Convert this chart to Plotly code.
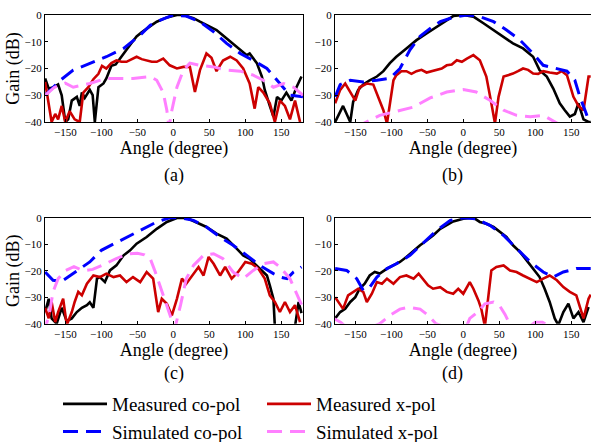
import plotly.graph_objects as go

# ---------------- data (angle in degree, gain in dB) ----------------
# Panel (a)
a_mco_x = [-178,-173,-166,-160,-155,-150,-146,-141,-134,-130,-127,-123,-116,-112,-109,-104,-97,-93,-86,-80,-76,-70,-65,-58,-51,-44,-37,-30,-23,-16,-9,-2,5,10,14,20,28,37,46,53,60,67,74,81,88,95,102,106,110,116,123,127,134,139,144,150,157,164,171,178]
a_mco_y = [-23.7,-27.5,-27,-26,-30,-40,-39,-32,-30.6,-34,-29,-31,-28,-30,-40,-27,-25.6,-23.7,-19,-18.5,-17,-15,-13,-10.5,-8,-6.5,-5,-3.8,-2.5,-1.6,-0.9,-0.5,0,0,0,-0.6,-1.2,-2.5,-3.8,-4.6,-5.6,-7.2,-8.8,-10.5,-12,-13.5,-15,-14.4,-16,-18,-23,-28,-34,-38,-30.6,-32,-29,-32,-27,-23]
a_mxp_x = [-178,-173,-169,-164,-160,-155,-150,-144,-137,-130,-125,-118,-111,-104,-99,-93,-86,-79,-72,-65,-58,-51,-44,-37,-30,-23,-14,-5,5,14,23,30,37,46,53,60,69,79,88,97,106,113,118,125,134,141,148,155,162,169,176]
a_mxp_y = [-25,-33,-40,-37,-39,-34,-40,-36,-39,-40,-29,-27,-24,-22,-19,-20,-18,-17,-17.5,-17.5,-16.5,-15.6,-16.5,-17,-17.5,-17.5,-16.3,-18.8,-20,-19.4,-19.4,-28.8,-20.6,-14.4,-16,-21,-17,-15.6,-17,-20,-25.6,-35,-27,-29,-33,-40,-32,-34,-39,-32,-40]
a_sco_x = [-178,-157,-139,-116,-93,-69,-46,-32,-18,0,18,37,56,74,93,111,130,148,162,180]
a_sco_y = [-30,-24.4,-20.6,-18,-15.6,-12.5,-7.5,-3.8,-1.9,0,-0.4,-2.5,-6.3,-10.6,-14.4,-17,-20,-25.6,-30,-30.6]
a_sxp_x = [-178,-165,-150,-139,-116,-93,-79,-56,-32,-23,-14,-9,-6,-2,5,14,23,37,56,74,93,111,125,139,153,167,180]
a_sxp_y = [-30,-27,-25.5,-27,-25.6,-23.7,-23.7,-23.7,-23,-24.4,-29,-35.6,-42,-35.6,-27,-20.6,-18,-18.8,-19.4,-20.6,-21,-22.5,-24.4,-27,-25.6,-27,-30]

# Panel (b)
b_mco_x = [-178,-173,-167,-162,-157,-153,-146,-139,-130,-120,-111,-102,-93,-79,-65,-51,-37,-23,-14,0,14,28,42,56,69,83,97,106,116,125,134,141,148,155,160,167,174,177]
b_mco_y = [-40,-37,-34,-37,-40,-32.5,-28,-26,-24.4,-23,-21,-18,-15.6,-12.5,-9.4,-6.9,-4.4,-1.9,-0.4,0,-0.6,-3.1,-5.6,-8.1,-10.6,-12.5,-15.6,-20.6,-23,-27.5,-33,-35.6,-38,-37,-33,-39,-40,-40]
b_mxp_x = [-178,-171,-164,-157,-150,-144,-134,-125,-118,-111,-106,-102,-97,-93,-86,-79,-72,-65,-58,-51,-44,-37,-30,-23,-16,-9,-2,5,14,23,32,39,44,49,56,62,69,76,83,90,97,104,111,120,130,137,144,153,160,167,174,177]
b_mxp_y = [-33,-28,-25.6,-29,-32,-27,-25.6,-26,-30.6,-35.6,-40.5,-34,-24.4,-22.5,-21,-21,-22,-21,-20.5,-21.5,-21,-20.6,-20,-18.8,-18.5,-16.9,-17.5,-16.3,-15,-16.9,-23,-33,-40.5,-30.6,-23,-22.5,-21.9,-21,-20,-20.5,-21.9,-22,-21,-21.5,-21.9,-21,-22.5,-30.6,-34,-35.6,-23,-23]
b_sco_x = [-178,-171,-157,-139,-120,-102,-88,-74,-60,-46,-32,-14,5,23,42,60,79,97,111,130,144,155,162,171,176]
b_sco_y = [-30.6,-26,-24.4,-25,-24.4,-23.7,-20,-13,-8,-5,-2.5,-0.9,0,-0.6,-2.5,-5.6,-9.4,-14.4,-18.8,-20,-21,-24.4,-30.6,-37,-41]
b_sxp_x = [-180,-150,-139,-116,-93,-69,-46,-23,0,18,37,56,74,93,111,125,134,150,177]
b_sxp_y = [-44,-43,-40.6,-37.5,-36,-34.4,-31,-28.8,-27.9,-28.8,-31.9,-35.6,-37.5,-38,-37.5,-39.4,-41,-44,-44]

# Panel (c)
c_mco_x = [-178,-173,-169,-162,-155,-148,-141,-134,-127,-120,-116,-111,-106,-102,-95,-88,-79,-69,-60,-51,-37,-23,-9,5,18,32,46,60,74,88,97,106,120,130,134,139,141,148,155,162,169,174,178]
c_mco_y = [-35.6,-30.6,-38,-40,-34,-39,-38,-35.6,-34,-33,-31.9,-34,-23,-22.4,-24.3,-19.9,-18,-14.2,-12.3,-9.8,-7.3,-4.2,-1.6,-0.1,0,-1.6,-3.5,-6,-7.9,-11.7,-14.2,-15.5,-19.2,-21.8,-25.5,-30.6,-41,-41,-41,-41,-41,-31.8,-36]
c_mxp_x = [-178,-173,-169,-164,-160,-153,-148,-141,-137,-132,-127,-120,-111,-102,-93,-83,-74,-65,-56,-46,-37,-28,-21,-16,-9,-2,5,12,18,28,35,42,49,56,65,72,81,90,100,109,118,127,134,141,148,155,162,169,176]
c_mxp_y = [-34,-38,-31.8,-39.4,-35.6,-30.6,-40.5,-35.6,-31.8,-28,-29.3,-24.9,-21.8,-22.4,-21.1,-22.4,-21.8,-24.3,-22.4,-24.3,-20.5,-23,-35.6,-30.6,-32.5,-36.9,-30.6,-23,-24.9,-21.1,-18.6,-21.8,-14.8,-17.4,-21.8,-18.6,-23,-20.5,-16.7,-17.4,-19.2,-23,-29.3,-31.8,-35.6,-31.8,-35.6,-33,-39.4]
c_sco_x = [-178,-167,-155,-139,-125,-116,-100,-86,-69,-42,-23,-5,9,28,46,65,83,102,120,139,150,158,167,178]
c_sco_y = [-20.5,-23.6,-24,-21,-18.6,-16.7,-12.3,-10.4,-7.9,-4.2,-1.6,0,0,-1,-3.5,-7.3,-10.4,-14.2,-18,-21.1,-22.5,-23,-20.5,-18.6]
c_sxp_x = [-180,-172,-167,-160,-150,-138,-125,-112,-95,-80,-62,-50,-40,-32,-25,-16,-5,2,10,18,28,42,56,69,83,97,111,125,139,148,162,174,180]
c_sxp_y = [-44,-36,-28,-23,-20,-18.5,-20,-19.5,-17.5,-15.5,-13.6,-13.4,-14,-15.5,-20.5,-28,-37,-42,-33,-23,-18,-14.2,-13.6,-15.5,-20.5,-23,-19.9,-17.4,-16.7,-18.6,-23,-30.6,-34]

# Panel (d)
d_mco_x = [-178,-171,-164,-157,-150,-144,-137,-130,-123,-116,-106,-97,-88,-79,-69,-60,-51,-42,-32,-23,-14,0,14,23,32,42,51,60,69,79,88,97,106,113,120,127,132,139,146,153,160,167,174]
d_mco_y = [-38,-35.6,-34.4,-31.8,-30,-26.8,-24.9,-21.8,-20.5,-21.1,-19.2,-18,-16.7,-14.8,-12.3,-10.4,-8.6,-6.7,-4.2,-2.9,-1.4,-0.4,0,-1.6,-2.3,-3.5,-5.4,-7.3,-10.4,-13,-16.1,-19.2,-22.4,-26.8,-31.8,-38,-40.5,-35.6,-32.4,-38,-35.6,-39.4,-33.7]
d_mxp_x = [-178,-173,-167,-160,-153,-146,-139,-134,-127,-120,-113,-106,-97,-88,-79,-69,-62,-56,-49,-42,-32,-23,-14,-7,0,9,14,21,25,30,35,39,46,56,65,74,83,93,102,111,120,130,139,148,157,167,174,177]
d_mxp_y = [-30,-31.8,-34.4,-29.3,-28,-26.8,-28,-31.8,-28.7,-24.3,-24.9,-23,-24.9,-22.4,-21.8,-23,-21.1,-23,-25.5,-26.8,-26.2,-28,-28.7,-26.8,-28.7,-24.3,-26.8,-31.2,-34.4,-41,-28,-19.9,-18.6,-18,-19.9,-20.5,-21.8,-23,-24.3,-23,-21.8,-23.6,-26.2,-28,-29.3,-38,-30.6,-29]
d_sco_x = [-178,-162,-148,-139,-130,-120,-106,-93,-74,-56,-37,-18,0,18,37,56,74,93,111,125,139,157,177]
d_sco_y = [-19.2,-19.9,-23,-27.4,-26.2,-22.4,-19.2,-17.4,-14.2,-9.8,-4.8,-1,0,-0.4,-2.9,-6.7,-11.7,-16.7,-20.5,-22.4,-20.5,-19.2,-19.2]
d_sxp_x = [-180,-170,-160,-140,-125,-116,-100,-88,-75,-60,-48,-38,-28,-15,0,9,20,30,42,50,58,65,80,100,110,120,135,177]
d_sxp_y = [-38,-39.5,-42,-44,-41,-40,-36.5,-34.5,-33.8,-34.5,-37,-40,-41,-44,-44,-38,-35.6,-32.5,-31.8,-33,-36.5,-40.5,-43,-39.5,-39.5,-41,-44,-44]

series_names = ["Measured co-pol", "Measured x-pol", "Simulated co-pol", "Simulated x-pol"]
panel_labels = ["(a)", "(b)", "(c)", "(d)"]
x_ticks = [-150, -100, -50, 0, 50, 100, 150]
y_ticks = [0, -10, -20, -30, -40]

panels = [
    [(a_mco_x, a_mco_y), (a_mxp_x, a_mxp_y), (a_sco_x, a_sco_y), (a_sxp_x, a_sxp_y)],
    [(b_mco_x, b_mco_y), (b_mxp_x, b_mxp_y), (b_sco_x, b_sco_y), (b_sxp_x, b_sxp_y)],
    [(c_mco_x, c_mco_y), (c_mxp_x, c_mxp_y), (c_sco_x, c_sco_y), (c_sxp_x, c_sxp_y)],
    [(d_mco_x, d_mco_y), (d_mxp_x, d_mxp_y), (d_sco_x, d_sco_y), (d_sxp_x, d_sxp_y)],
]

# ---------------- styles ----------------
W, H = 591, 442
FONT = "Liberation Serif, Times New Roman, serif"
styles = [
    dict(color="#000000", width=2.6, dash="solid"),
    dict(color="#CC0000", width=2.6, dash="solid"),
    dict(color="#0000FF", width=3.0, dash="15px,8px"),
    dict(color="#FF80FF", width=3.0, dash="15px,8px"),
]
legend_of = ["legend", "legend2", "legend", "legend2"]

# pixel geometry of the four plot areas: (left, right, top, bottom)
boxes = [(45, 303, 15, 122), (335, 591, 15, 122), (45, 303, 217.7, 323.7), (335, 591, 217.7, 323.7)]
xranges = [[-178.2, 180.1], [-178.2, 177.4], [-178.2, 180.1], [-178.2, 177.4]]

fig = go.Figure()
for p, series in enumerate(panels):
    xa = "x" if p == 0 else f"x{p+1}"
    ya = "y" if p == 0 else f"y{p+1}"
    for s, (xs, ys) in enumerate(series):
        fig.add_trace(go.Scatter(
            x=xs, y=ys, mode="lines", name=series_names[s],
            line=styles[s], xaxis=xa, yaxis=ya,
            showlegend=(p == 0), legend=legend_of[s],
        ))

axis_font = dict(family=FONT, size=11, color="black")
title_font = dict(family=FONT, size=18, color="black")
for p, (l, r, t, b) in enumerate(boxes):
    sx = "" if p == 0 else str(p + 1)
    fig.update_layout({
        f"xaxis{sx}": dict(
            domain=[l / W, r / W], range=xranges[p], anchor=f"y{sx}",
            tickvals=x_ticks, ticks="inside", ticklen=3, tickcolor="black",
            showline=True, linecolor="black", linewidth=1, mirror=True,
            showgrid=False, zeroline=False, tickfont=axis_font,
            title=dict(text="Angle (degree)", font=title_font, standoff=4),
            automargin=False,
        ),
        f"yaxis{sx}": dict(
            domain=[1 - b / H, 1 - t / H], range=[-40, 0], anchor=f"x{sx}",
            tickvals=y_ticks, ticks="inside", ticklen=3, tickcolor="black",
            showline=True, linecolor="black", linewidth=1, mirror=True,
            showgrid=False, zeroline=False, tickfont=axis_font,
            title=dict(text="Gain (dB)" if p in (0, 2) else "", font=title_font, standoff=0),
            automargin=False,
        ),
    })

label_pos = [(174, 176), (452, 176), (174, 373), (452, 373)]
for lab, (px, py) in zip(panel_labels, label_pos):
    fig.add_annotation(text=lab, x=px / W, y=1 - py / H, xref="paper", yref="paper",
                       showarrow=False, font=dict(family=FONT, size=18, color="black"),
                       xanchor="center", yanchor="middle")

leg_common = dict(orientation="v", yanchor="top", xanchor="left", bgcolor="rgba(0,0,0,0)",
                  font=dict(family=FONT, size=19, color="black"), itemwidth=44,
                  tracegroupgap=0, traceorder="normal", itemclick=False)
fig.update_layout(
    width=W, height=H, margin=dict(l=0, r=0, t=0, b=0, autoexpand=False),
    paper_bgcolor="white", plot_bgcolor="white",
    legend=dict(x=58 / W, y=1 - 385 / H, **leg_common),
    legend2=dict(x=262 / W, y=1 - 385 / H, **leg_common),
)

fig.write_html("out.html")
